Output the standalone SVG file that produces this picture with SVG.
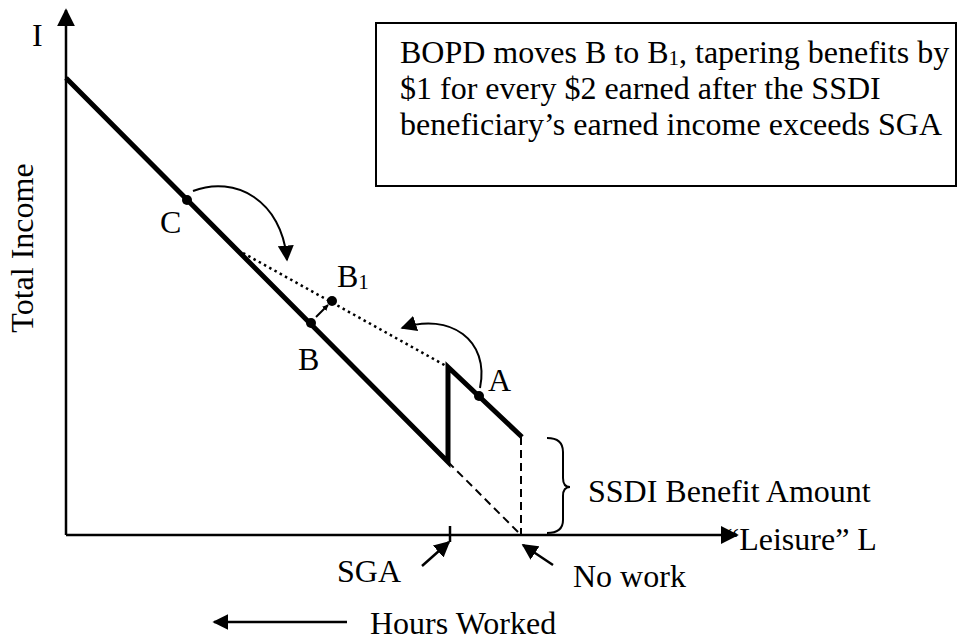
<svg xmlns="http://www.w3.org/2000/svg" width="959" height="643" viewBox="0 0 959 643">
  <defs>
    <marker id="tri" viewBox="0 0 10 10" refX="9" refY="5" markerWidth="6" markerHeight="6" markerUnits="userSpaceOnUse" orient="auto">
      <path d="M0,0 L10,5 L0,10 Z" fill="#000"/>
    </marker>
    <marker id="triBig" viewBox="0 0 10 10" refX="9" refY="5" markerWidth="18" markerHeight="18" markerUnits="userSpaceOnUse" orient="auto">
      <path d="M0,0 L10,5 L0,10 Z" fill="#000"/>
    </marker>
    <marker id="triMid" viewBox="0 0 10 10" refX="9" refY="5" markerWidth="16" markerHeight="16" markerUnits="userSpaceOnUse" orient="auto">
      <path d="M0,0 L10,5 L0,10 Z" fill="#000"/>
    </marker>
  </defs>
  <style>
    text { font-family: "Liberation Serif", "Times New Roman", serif; font-size: 32px; fill: #000; }
    .axis { stroke: #000; stroke-width: 2.5; fill: none; }
    .budget { stroke: #000; stroke-width: 5; fill: none; stroke-linejoin: miter; }
    .dotted { stroke: #000; stroke-width: 2.5; fill: none; stroke-dasharray: 2.5 3.5; }
    .dashed { stroke: #000; stroke-width: 2; fill: none; stroke-dasharray: 8 5; }
    .curve { stroke: #000; stroke-width: 2; fill: none; }
    .pt { fill: #000; }
  </style>
  <rect width="959" height="643" fill="#fff"/>

  <!-- axes -->
  <g id="axes">
    <line class="axis" x1="66" y1="535" x2="66" y2="10" marker-end="url(#triBig)"/>
    <line class="axis" x1="66" y1="535" x2="737" y2="535" marker-end="url(#triBig)"/>
    <line class="axis" x1="450" y1="526" x2="450" y2="542"/>
    <text x="32" y="46">I</text>
    <text transform="translate(33,248) rotate(-90)" text-anchor="middle">Total Income</text>
    <text x="725" y="550">“Leisure” L</text>
  </g>

  <!-- budget constraint -->
  <g id="budget">
    <polyline class="budget" points="66,78 448,462 448,367 522,437"/>
    <line class="dotted" x1="243" y1="253" x2="448" y2="367"/>
    <line class="dashed" x1="448" y1="462" x2="521" y2="535"/>
    <line class="dashed" x1="521" y1="437" x2="521" y2="535"/>
  </g>

  <!-- labelled points -->
  <g id="point-C">
    <circle class="pt" cx="187" cy="200" r="5"/>
    <text x="160" y="233">C</text>
  </g>
  <g id="point-B">
    <circle class="pt" cx="311" cy="323" r="5"/>
    <text x="298" y="370">B</text>
  </g>
  <g id="point-B1">
    <circle class="pt" cx="332" cy="301" r="5"/>
    <text x="337" y="287">B<tspan font-size="21" dy="2">1</tspan></text>
  </g>
  <g id="point-A">
    <circle class="pt" cx="479" cy="396" r="5"/>
    <text x="488" y="391">A</text>
  </g>

  <!-- brace for benefit amount -->
  <g id="benefit">
    <path class="curve" d="M547,438 Q563,438 563,452 L563,478 Q563,487 570,487 Q563,487 563,496 L563,520 Q563,533 547,533"/>
    <text x="588" y="502">SSDI Benefit Amount</text>
  </g>

  <!-- notes -->
  <g id="note">
    <rect x="376" y="23" width="580" height="163" fill="#fff" stroke="#000" stroke-width="2"/>
    <text x="400" y="63">BOPD moves B to B<tspan font-size="21" dy="2">1</tspan><tspan dy="-2">, tapering benefits by</tspan></text>
    <text x="400" y="99">$1 for every $2 earned after the SSDI</text>
    <text x="400" y="135">beneficiary’s earned income exceeds SGA</text>
  </g>

  <g id="label-SGA">
    <text x="337" y="582">SGA</text>
  </g>
  <g id="label-nowork">
    <text x="573" y="587">No work</text>
  </g>
  <g id="label-hours">
    <text x="370" y="634">Hours Worked</text>
  </g>

  <!-- connectors -->
  <g id="connectors">
    <path class="curve" d="M193,191 C235,175 282,200 287,260" marker-end="url(#triMid)"/>
    <path class="curve" d="M480,388 C490,340 450,312 402,328" marker-end="url(#triMid)"/>
    <line class="curve" x1="316" y1="317" x2="328" y2="305" marker-end="url(#tri)"/>
    <line class="axis" x1="422" y1="566" x2="449" y2="542" marker-end="url(#triMid)"/>
    <line class="axis" x1="553" y1="565" x2="523" y2="545" marker-end="url(#triMid)"/>
    <line class="axis" x1="347" y1="622" x2="214" y2="622" marker-end="url(#triMid)"/>
  </g>
</svg>
